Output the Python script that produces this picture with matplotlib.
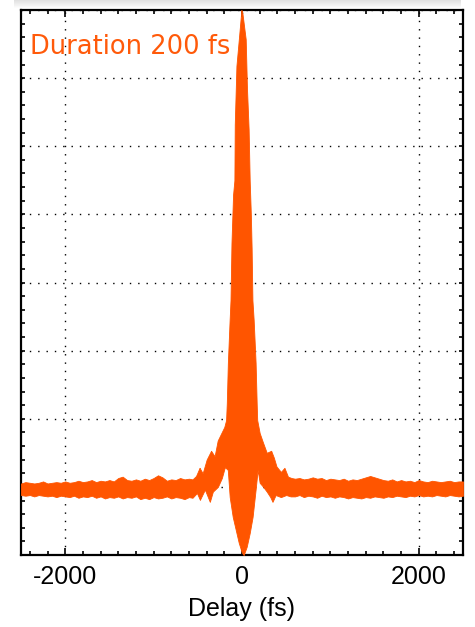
"""Interferometric autocorrelation trace, 200 fs pulse."""

import matplotlib

matplotlib.use("Agg", force=True)
import matplotlib.pyplot as plt
import numpy as np
from matplotlib.ticker import MultipleLocator

# background level read every 50 fs on each side of the pulse (delay in fs)
left_delay = list(range(-2500, -599, 50))
right_delay = list(range(600, 2501, 50))

left_upper = [
    1.05, 1.07, 1.06, 1.05, 1.06, 1.08, 1.05, 1.06, 1.07, 1.06,
    1.08, 1.06, 1.07, 1.09, 1.07, 1.08, 1.10, 1.07, 1.09, 1.08,
    1.10, 1.08, 1.13, 1.15, 1.10, 1.09, 1.11, 1.09, 1.12, 1.10,
    1.13, 1.17, 1.14, 1.09, 1.11, 1.10, 1.13, 1.11, 1.12,
]
right_upper = [
    1.12, 1.13, 1.11, 1.12, 1.14, 1.12, 1.13, 1.10, 1.12, 1.11,
    1.10, 1.12, 1.09, 1.11, 1.10, 1.12, 1.14, 1.16, 1.14, 1.12,
    1.10, 1.09, 1.11, 1.08, 1.10, 1.08, 1.09, 1.07, 1.10, 1.08,
    1.07, 1.09, 1.08, 1.07, 1.08, 1.09, 1.07, 1.08, 1.08,
]
left_lower = [
    0.88, 0.87, 0.88, 0.86, 0.88, 0.87, 0.86, 0.87, 0.85, 0.87,
    0.86, 0.85, 0.87, 0.84, 0.86, 0.85, 0.87, 0.84, 0.86, 0.83,
    0.85, 0.84, 0.86, 0.83, 0.85, 0.84, 0.86, 0.82, 0.84, 0.82,
    0.85, 0.83, 0.84, 0.86, 0.83, 0.85, 0.84, 0.82, 0.85,
]
right_lower = [
    0.86, 0.88, 0.85, 0.87, 0.86, 0.84, 0.87, 0.85, 0.86, 0.84,
    0.86, 0.85, 0.83, 0.85, 0.84, 0.83, 0.85, 0.84, 0.86, 0.85,
    0.84, 0.86, 0.85, 0.87, 0.86, 0.85, 0.87, 0.86, 0.88, 0.86,
    0.87, 0.86, 0.88, 0.87, 0.86, 0.88, 0.87, 0.86, 0.87,
]

# central part: main lobe and side wings
centre_upper_delay = [
    -560, -520, -480, -445, -400, -350, -310, -275, -230, -200,
    -180, -172, -160, -140, -130, -119, -101, -86, -82, -63,
    -34, -7, 5, 42, 56, 75, 87, 100, 109, 118,
    132, 154, 166, 172, 200, 235, 280, 330, 360, 390,
    440, 480, 520, 560,
]
centre_upper_value = [
    1.11, 1.16, 1.28, 1.20, 1.40, 1.53, 1.45, 1.68, 1.80, 1.88,
    1.98, 2.23, 2.82, 3.45, 3.74, 4.58, 5.29, 5.50, 6.32, 7.18,
    7.60, 8.00, 7.95, 7.57, 6.86, 6.25, 5.50, 5.00, 4.50, 3.74,
    3.45, 2.82, 2.23, 1.98, 1.79, 1.66, 1.50, 1.53, 1.43, 1.30,
    1.22, 1.28, 1.15, 1.13,
]
centre_lower_delay = [
    -560, -510, -476, -420, -364, -330, -273, -228, -194, -161,
    -139, -105, -71, -37, -3, 19, 53, 87, 120, 154,
    177, 200, 240, 280, 320, 345, 380, 440, 500, 550,
]
centre_lower_value = [
    0.84, 0.91, 0.81, 0.96, 0.78, 0.93, 1.00, 1.13, 1.29, 1.25,
    0.85, 0.56, 0.37, 0.18, 0.04, 0.00, 0.12, 0.32, 0.56, 0.96,
    1.25, 1.06, 1.00, 0.93, 0.85, 0.78, 0.88, 0.85, 0.88, 0.86,
]

x_labels = ["-2000", "0", "2000"]
x_major = [-2000, 0, 2000]
label_text = "Duration 200 fs"

orange = "#ff5500"

upper_delay = left_delay + centre_upper_delay + right_delay
upper_value = left_upper + centre_upper_value + right_upper
lower_delay = left_delay + centre_lower_delay + right_delay
lower_value = left_lower + centre_lower_value + right_lower

fig = plt.figure(figsize=(4.75, 6.27), dpi=100)

# faint grey shadow along the top edge of the screenshot
shade = fig.add_axes([0.03, 1 - 9 / 627, 0.94, 9 / 627])
shade.imshow(np.linspace(0.88, 1.0, 9).reshape(-1, 1), cmap="gray", vmin=0, vmax=1,
             aspect="auto", extent=[0, 1, 0, 1])
shade.axis("off")

ax = fig.add_axes([21 / 475, 1 - 555 / 627, 442 / 475, 545 / 627])

# the fringes are too dense to resolve, so the trace reads as a filled band
grid_x = np.union1d(upper_delay, lower_delay)
top = np.interp(grid_x, upper_delay, upper_value)
bottom = np.interp(grid_x, lower_delay, lower_value)
ax.fill_between(grid_x, bottom, top, color=orange, linewidth=0.6, edgecolor=orange, zorder=3)

ax.set_xlim(-2500, 2500)
ax.set_ylim(0, 8)
ax.set_xticks(x_major)
ax.set_xticklabels(x_labels)
ax.xaxis.set_minor_locator(MultipleLocator(200))
ax.yaxis.set_major_locator(MultipleLocator(1))
ax.yaxis.set_minor_locator(MultipleLocator(0.2))
ax.set_yticklabels([])

ax.tick_params(which="both", direction="in", top=True, right=True, color="black")
ax.tick_params(which="major", length=5, width=1.2, labelsize=18, pad=7)
ax.tick_params(which="minor", length=3, width=1.2)
ax.tick_params(axis="y", which="major", length=3)
for label in ax.get_xticklabels():
    label.set_fontfamily("Liberation Sans")

for spine in ax.spines.values():
    spine.set_linewidth(1.6)

ax.grid(True, which="major", color="black", linestyle=(0, (1, 5)), linewidth=1.0, zorder=1)
ax.set_axisbelow(True)

ax.set_xlabel("Delay (fs)", fontsize=18, fontfamily="Liberation Sans", labelpad=6)

fig.text(30 / 475, 1 - 54 / 627, label_text, color="#ff5a0a", fontsize=18.5,
         fontfamily="DejaVu Sans", va="baseline", ha="left")

fig.savefig("out.png", dpi=100)
plt.close(fig)
